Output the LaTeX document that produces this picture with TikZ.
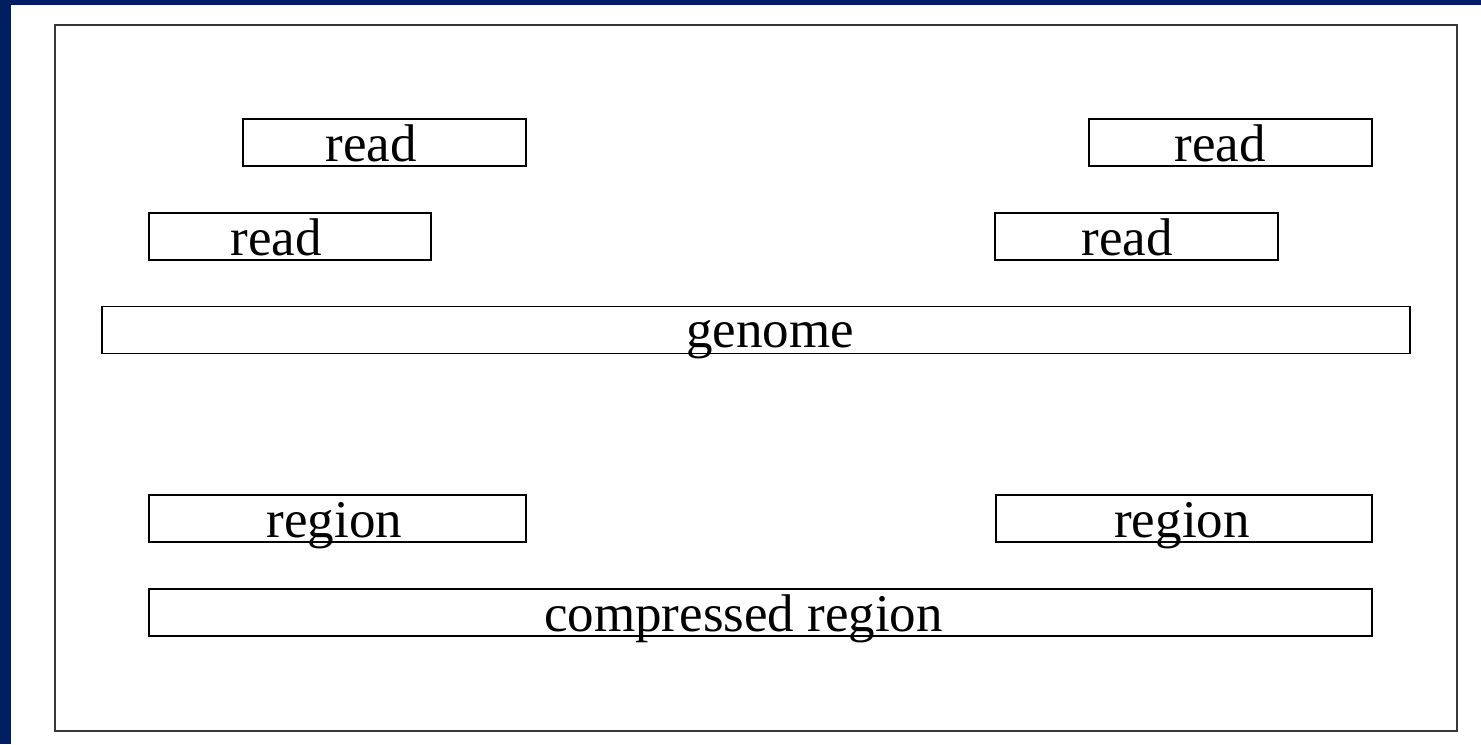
\documentclass[tikz,border=0pt]{standalone}
\usepackage{fontspec}
\setmainfont{Liberation Serif}
\usepackage{tikz}
\definecolor{slidenavy}{RGB}{0,30,96}
\definecolor{framegray}{RGB}{55,55,55}
\tikzset{
    segbox/.style={rectangle, draw=black, line width=0.75pt, inner sep=0pt, minimum height=23.5pt},
    seglabel/.style={anchor=base, inner sep=0pt, font=\fontsize{26.5pt}{31pt}\selectfont},
    panel/.style={draw=framegray, line width=1pt},
}

\begin{document}
\begin{tikzpicture}[x=0.5pt, y=-0.5pt]

% Slide background
\useasboundingbox (0,0) rectangle (1481,744);
\fill[slidenavy] (0,0) rectangle (1481,744);
\fill[white] (11,5) rectangle (1481,744);
\draw[panel] (55,25) rectangle (1457,731);

% Reads
\node[segbox, minimum width=141.5pt] (readA) at (384.5,142.5) {};
\node[segbox, minimum width=141pt] (readB) at (290,236.5) {};
\node[segbox, minimum width=141.5pt] (readC) at (1230.5,142.5) {};
\node[segbox, minimum width=141.5pt] (readD) at (1136.5,236.5) {};
\node[seglabel] (readA-t) at (371,161) {read};
\node[seglabel] (readB-t) at (276,255.5) {read};
\node[seglabel] (readC-t) at (1220,161) {read};
\node[seglabel] (readD-t) at (1127,255.5) {read};

% Genome
\node[segbox, minimum width=654pt] (genome) at (756,330) {};
\node[seglabel] (genome-t) at (770,347.5) {genome};

% Regions
\node[segbox, minimum width=188.5pt] (regionA) at (337.5,518.5) {};
\node[segbox, minimum width=188pt] (regionB) at (1184,518.5) {};
\node[seglabel] (regionA-t) at (334.5,537.5) {region};
\node[seglabel] (regionB-t) at (1182,537.5) {region};

% Compressed region
\node[segbox, minimum width=611.5pt] (compressed) at (760.5,612.5) {};
\node[seglabel] (compressed-t) at (743.5,631.5) {compressed region};

\end{tikzpicture}
\end{document}
